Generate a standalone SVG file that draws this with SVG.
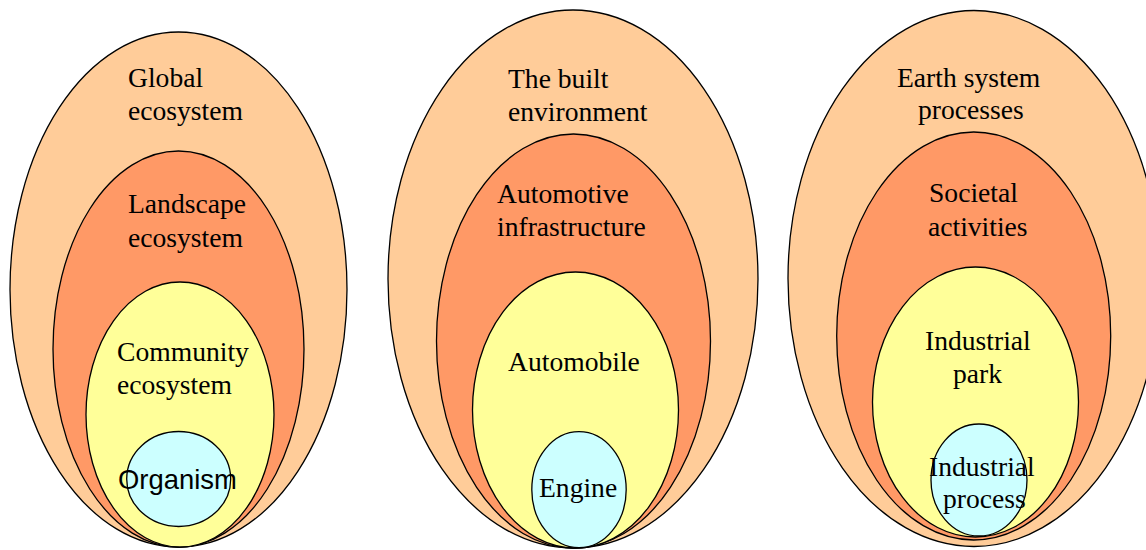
<svg xmlns="http://www.w3.org/2000/svg" width="1146" height="550" viewBox="0 0 1146 550">
<style>
ellipse{stroke:#000;stroke-width:1.3}
.l1{fill:#FFCC99}
.l2{fill:#FF9966}
.l3{fill:#FFFF99}
.l4{fill:#CCFFFF}
text{font-family:"Liberation Serif","Times New Roman",serif;font-size:27.6px;fill:#000}
text.sans{font-family:"Liberation Sans",Arial,sans-serif;font-size:27.4px}
</style>
<rect width="1146" height="550" fill="#fff"/>
<g id="set-ecology">
<g id="global-ecosystem"><ellipse class="l1" cx="178.5" cy="289.5" rx="168.5" ry="257.5"/><text x="128" y="87">Global</text><text x="128" y="120">ecosystem</text></g>
<g id="landscape-ecosystem"><ellipse class="l2" cx="178.5" cy="349" rx="125.5" ry="198"/><text x="128" y="213">Landscape</text><text x="128" y="246.5">ecosystem</text></g>
<g id="community-ecosystem"><ellipse class="l3" cx="180" cy="414.5" rx="94" ry="132.5"/><text x="117" y="361">Community</text><text x="117" y="394">ecosystem</text></g>
<g id="organism"><ellipse class="l4" cx="178.7" cy="479" rx="52" ry="47.5"/><text class="sans" x="118" y="488.5">Organism</text></g>
</g>
<g id="set-built">
<g id="built-environment"><ellipse class="l1" cx="573" cy="279" rx="185" ry="269"/><text x="508" y="88.3">The built</text><text x="508" y="120.7">environment</text></g>
<g id="automotive-infrastructure"><ellipse class="l2" cx="573.5" cy="341" rx="137" ry="207"/><text x="497" y="202.7">Automotive</text><text x="497" y="236">infrastructure</text></g>
<g id="automobile"><ellipse class="l3" cx="575.5" cy="410" rx="103" ry="138"/><text x="508" y="371">Automobile</text></g>
<g id="engine"><ellipse class="l4" cx="579" cy="489.7" rx="47.2" ry="58"/><text x="539" y="496.7">Engine</text></g>
</g>
<g id="set-earth">
<g id="earth-system-processes"><ellipse class="l1" cx="974" cy="278.5" rx="186" ry="268"/><text x="897" y="87.3">Earth system</text><text x="918" y="119">processes</text></g>
<g id="societal-activities"><ellipse class="l2" cx="973.7" cy="336" rx="137" ry="204"/><text x="929" y="202.3">Societal</text><text x="928" y="236">activities</text></g>
<g id="industrial-park"><ellipse class="l3" cx="975.5" cy="402" rx="103" ry="135"/><text x="925" y="350">Industrial</text><text x="953" y="383.3">park</text></g>
<g id="industrial-process"><ellipse class="l4" cx="979" cy="480" rx="48" ry="56"/><text x="929" y="476">Industrial</text><text x="943" y="508.3">process</text></g>
</g>
<g id="connectors"/>
</svg>
